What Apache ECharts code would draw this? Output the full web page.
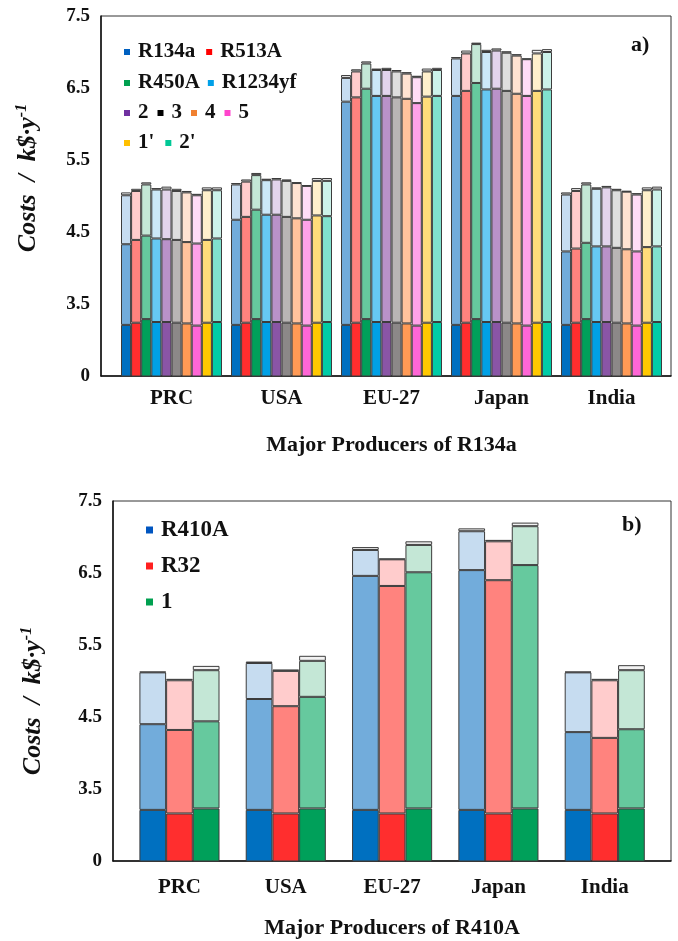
<!DOCTYPE html>
<html>
<head>
<meta charset="utf-8">
<title>Costs by major producers</title>
<script src="https://cdn.jsdelivr.net/npm/echarts@6/dist/echarts.min.js"></script>
<style>
  html, body { margin: 0; padding: 0; background: #fff; }
  #chart { width: 678px; height: 941px; }
</style>
</head>
<body>
<div id="chart"></div>
<script>
// ---- data -------------------------------------------------------------
const countries = ['PRC', 'USA', 'EU-27', 'Japan', 'India'];

// panel a) : R134a and its replacements
const refrigerantsA = ['R134a', 'R513A', 'R450A', 'R1234yf', '2', '3', '4', '5', "1'", "2'"];
// top of the dark (first) segment, identical for every country
const baseTopA = [3.21, 3.24, 3.29, 3.25, 3.25, 3.24, 3.23, 3.20, 3.24, 3.25];
// tops of the following segments; one row per refrigerant, one column per country
const midTopA = [
  [4.33, 4.67, 6.31, 6.39, 4.23],
  [4.39, 4.71, 6.37, 6.46, 4.27],
  [4.45, 4.81, 6.49, 6.57, 4.35],
  [4.41, 4.74, 6.39, 6.48, 4.30],
  [4.40, 4.74, 6.39, 6.49, 4.30],
  [4.39, 4.71, 6.37, 6.46, 4.28],
  [4.36, 4.69, 6.35, 6.42, 4.26],
  [4.34, 4.67, 6.29, 6.39, 4.23],
  [4.39, 4.73, 6.38, 6.46, 4.29],
  [4.41, 4.72, 6.39, 6.48, 4.30]
];
const lightTopA = [
  [5.01, 5.16, 6.64, 6.91, 5.02],
  [5.07, 5.20, 6.73, 6.98, 5.07],
  [5.16, 5.29, 6.84, 7.11, 5.16],
  [5.09, 5.22, 6.75, 7.00, 5.10],
  [5.09, 5.23, 6.75, 7.02, 5.12],
  [5.07, 5.21, 6.73, 6.99, 5.08],
  [5.05, 5.18, 6.70, 6.95, 5.06],
  [5.01, 5.14, 6.65, 6.90, 5.02],
  [5.08, 5.21, 6.73, 6.98, 5.08],
  [5.08, 5.21, 6.75, 7.00, 5.09]
];
const capTopA = [
  [5.05, 5.18, 6.68, 6.93, 5.05],
  [5.10, 5.23, 6.76, 7.02, 5.11],
  [5.19, 5.32, 6.87, 7.13, 5.19],
  [5.11, 5.24, 6.77, 7.03, 5.12],
  [5.13, 5.25, 6.78, 7.05, 5.14],
  [5.10, 5.23, 6.75, 7.01, 5.10],
  [5.07, 5.19, 6.72, 6.97, 5.07],
  [5.03, 5.15, 6.67, 6.91, 5.04],
  [5.12, 5.25, 6.77, 7.03, 5.12],
  [5.12, 5.25, 6.78, 7.04, 5.13]
];

// panel b) : R410A and its replacements
const refrigerantsB = ['R410A', 'R32', '1'];
const baseTopB = [3.21, 3.16, 3.23];
const midTopB = [
  [4.40, 4.75, 6.46, 6.54, 4.29],
  [4.32, 4.65, 6.32, 6.40, 4.21],
  [4.44, 4.78, 6.51, 6.61, 4.33]
];
const lightTopB = [
  [5.12, 5.25, 6.82, 7.08, 5.12],
  [5.01, 5.14, 6.69, 6.94, 5.01],
  [5.15, 5.28, 6.89, 7.15, 5.15]
];
const capTopB = [
  [5.13, 5.27, 6.86, 7.12, 5.13],
  [5.03, 5.16, 6.70, 6.96, 5.03],
  [5.21, 5.35, 6.94, 7.20, 5.22]
];

// y axis: the lowest tick is labelled 0 (axis break below 3.5)
const yTicks = [2.5, 3.5, 4.5, 5.5, 6.5, 7.5];
const yTickLabels = ['0', '3.5', '4.5', '5.5', '6.5', '7.5'];

// ---- colours ----------------------------------------------------------
const darkA  = ['#0070C0', '#FF2E2E', '#00A05A', '#00A0E6', '#8A55A6', '#8C8888', '#FF9A55', '#FF66D6', '#FFC800', '#00CCA6'];
const midA   = ['#72ACDB', '#FF837E', '#66C99E', '#66C8F2', '#B992C9', '#B9B5B5', '#FFC29C', '#FFA2E8', '#FFDC7A', '#80E1CE'];
const lightA = ['#C6DCF0', '#FFCCCC', '#C4E7D6', '#CCE8F8', '#E2D4EC', '#DEDEDE', '#FFE3D2', '#FFDDF6', '#FFF0CC', '#CCF2EA'];
const keyA   = ['#0060C0', '#FF0000', '#00A050', '#00A0E8', '#7030A0', '#000000', '#F08030', '#FF44CC', '#FFC000', '#00C896'];
const capColor = '#F2F2F2';

const darkB  = darkA.slice(0, 3);
const midB   = midA.slice(0, 3);
const lightB = lightA.slice(0, 3);
const keyB   = ['#0055C0', '#FF2020', '#00A050'];

const SERIF = "'Liberation Serif', 'Times New Roman', serif";
const EDGE = '#3c3c3c';

// ---- helpers ----------------------------------------------------------
function stackedSeries(tag, names, baseTop, midTop, lightTop, capTop, cols, axisIdx, barWidth) {
  const out = [];
  names.forEach((name, i) => {
    const base = countries.map(() => baseTop[i]);
    const tops = [base, midTop[i], lightTop[i], capTop[i]];
    const fills = [cols.dark[i], cols.mid[i], cols.light[i], capColor];
    tops.forEach((row, k) => {
      const data = row.map((v, c) => k === 0 ? v : +(v - tops[k - 1][c]).toFixed(4));
      out.push({
        type: 'bar',
        name: k === 0 ? name : name + ' #' + (k + 1),
        xAxisIndex: axisIdx,
        yAxisIndex: axisIdx,
        stack: tag + i,
        barWidth: barWidth,
        barGap: '0%',
        data: data,
        itemStyle: { color: fills[k], borderColor: EDGE, borderWidth: 1 },
        emphasis: { disabled: true },
        silent: true
      });
    });
  });
  return out;
}

function yLabel(v) {
  const i = yTicks.findIndex(t => Math.abs(t - v) < 1e-6);
  return i < 0 ? '' : yTickLabels[i];
}

function frameY(idx) {
  return {
    type: 'value', gridIndex: idx, min: 2.5, max: 7.5, interval: 0.5,
    axisLine: { show: true, lineStyle: { color: '#111', width: 1.5 } },
    axisTick: { show: false },
    splitLine: { show: false },
    axisLabel: {
      formatter: yLabel, margin: 11, color: '#111',
      fontFamily: SERIF, fontWeight: 'bold', fontSize: 19
    }
  };
}
function hiddenY(idx) {
  return { type: 'value', gridIndex: idx, min: 2.5, max: 7.5, interval: 0.5, show: false };
}
function frameX(idx) {
  return {
    type: 'value', gridIndex: idx, min: 0, max: 1,
    axisLine: { show: true, lineStyle: { color: '#111', width: 1.5 } },
    axisTick: { show: false }, axisLabel: { show: false }, splitLine: { show: false }
  };
}
function catX(idx, title, margin, gap) {
  return {
    type: 'category', gridIndex: idx, data: countries,
    axisLine: { show: false }, axisTick: { show: false },
    axisLabel: { margin: margin, color: '#111', fontFamily: SERIF, fontWeight: 'bold', fontSize: 21 },
    name: title, nameLocation: 'middle', nameGap: gap,
    nameTextStyle: { color: '#111', fontFamily: SERIF, fontWeight: 'bold', fontSize: 22 }
  };
}

// rotated y-axis title: "Costs / k$·y⁻¹"
function yTitle(cx, cy) {
  return {
    type: 'text', x: cx, y: cy, rotation: Math.PI / 2, silent: true,
    style: {
      text: '{i|Costs  /  k$·y}{s|-1}',
      align: 'center', verticalAlign: 'middle',
      rich: {
        i: { fontFamily: SERIF, fontStyle: 'italic', fontWeight: 'bold', fontSize: 26, fill: '#111' },
        s: { fontFamily: SERIF, fontStyle: 'italic', fontWeight: 'bold', fontSize: 16, fill: '#111', padding: [0, 0, 12, 0] }
      }
    }
  };
}

const legendText = { fontFamily: SERIF, fontWeight: 'bold', fontSize: 21, color: '#111', lineHeight: 24, padding: [0, 0, 0, 3] };
function legendRow(names, top, gap) {
  return {
    left: 124, top: top, padding: 0, itemGap: gap, itemWidth: 6, itemHeight: 6,
    icon: 'rect', selectedMode: false,
    itemStyle: { borderWidth: 0 },
    textStyle: legendText,
    data: names.map(n => ({ name: n, itemStyle: { color: keyA[refrigerantsA.indexOf(n)], borderWidth: 0 } }))
  };
}

// ---- chart ------------------------------------------------------------
const chart = echarts.init(document.getElementById('chart'), null, { renderer: 'canvas' });

const option = {
  backgroundColor: '#ffffff',
  animation: false,
  title: [
    { text: 'a)', left: 631, top: 34, padding: 0, textStyle: { fontFamily: SERIF, fontWeight: 'bold', fontSize: 22, color: '#111' } },
    { text: 'b)', left: 622, top: 514, padding: 0, textStyle: { fontFamily: SERIF, fontWeight: 'bold', fontSize: 22, color: '#111' } }
  ],
  graphic: [yTitle(28, 178), yTitle(33, 701)],
  grid: [
    { left: 101, top: 16, width: 570, height: 360, show: true, borderColor: '#333', borderWidth: 1 },
    { left: 116.5, top: 16, width: 550, height: 360 },
    { left: 113, top: 501, width: 558, height: 360, show: true, borderColor: '#333', borderWidth: 1 },
    { left: 126.3, top: 501, width: 531.6, height: 360 }
  ],
  xAxis: [
    frameX(0),
    catX(1, 'Major Producers of R134a', 12, 58),
    frameX(2),
    catX(3, 'Major Producers of R410A', 16, 56)
  ],
  yAxis: [frameY(0), hiddenY(1), frameY(2), hiddenY(3)],
  legend: [
    legendRow(['R134a', 'R513A'], 40, 11),
    legendRow(['R450A', 'R1234yf'], 71, 8),
    legendRow(['2', '3', '4', '5'], 101, 9),
    legendRow(["1'", "2'"], 131, 11),
    {
      left: 146, top: 518, padding: 0, orient: 'vertical', itemGap: 12,
      itemWidth: 7, itemHeight: 7, icon: 'rect', selectedMode: false,
      itemStyle: { borderWidth: 0 },
      textStyle: { fontFamily: SERIF, fontWeight: 'bold', fontSize: 23, color: '#111', lineHeight: 24, padding: [0, 0, 0, 3] },
      data: refrigerantsB.map((n, i) => ({ name: n, itemStyle: { color: keyB[i], borderWidth: 0 } }))
    }
  ],
  series: [
    ...stackedSeries('a', refrigerantsA, baseTopA, midTopA, lightTopA, capTopA,
      { dark: darkA, mid: midA, light: lightA }, 1, 10.1),
    ...stackedSeries('b', refrigerantsB, baseTopB, midTopB, lightTopB, capTopB,
      { dark: darkB, mid: midB, light: lightB }, 3, 26.7)
  ]
};

chart.setOption(option);
</script>
</body>
</html>
